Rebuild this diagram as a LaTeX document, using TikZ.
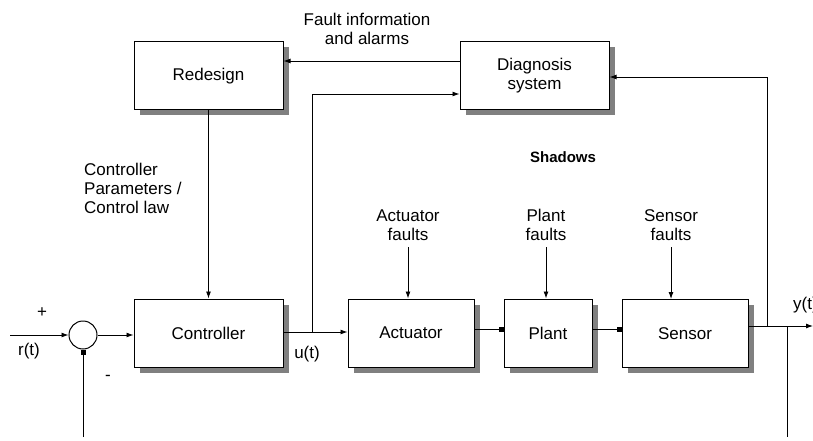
\documentclass[tikz,border=0pt]{standalone}
\usepackage{fontspec}
\setmainfont{Liberation Sans}
\usetikzlibrary{arrows.meta,shadows}
\begin{document}
\begin{tikzpicture}[x=1pt,y=-1pt,
  blk/.style={draw=black,line width=1pt,fill=white,
    drop shadow={shadow xshift=5.5pt,shadow yshift=-5.5pt,fill=black!50,opacity=1},
    inner sep=0pt,font=\fontsize{17}{19}\selectfont,align=center},
  lbl/.style={inner sep=0pt,font=\fontsize{17}{19}\selectfont,align=center},
  conn/.style={line width=0.9pt},
  arr/.style={conn,-{Latex[length=7pt,width=5pt]}},
  sq/.style={conn,-{Square[length=5pt,width=5pt]}}]
\useasboundingbox (0,0) rectangle (813,441);

% blocks
\node[blk,minimum width=149pt,minimum height=68pt] (red) at (208.5,76) {Redesign};
\node[blk,minimum width=149pt,minimum height=68pt] (diag) at (534.5,76) {Diagnosis\\system};
\node[blk,minimum width=149pt,minimum height=68pt] (ctrl) at (208.5,333) {Controller};
\node[blk,minimum width=126pt,minimum height=68pt] (act) at (411,333) {Actuator};
\node[blk,minimum width=88pt,minimum height=68pt] (plant) at (548,333) {Plant};
\node[blk,minimum width=126pt,minimum height=68pt] (sens) at (685,333.5) {Sensor};
\node[draw=black,line width=1pt,fill=white,circle,minimum size=28pt,inner sep=0pt] (sum) at (83,335) {};

% labels
\node[lbl] (fault) at (367,29) {Fault information\\and alarms};
\node[lbl,align=left,anchor=north west] (cpar) at (84,163) {Controller\\Parameters /\\Control law};
\node[lbl,font=\fontsize{15}{18}\selectfont\bfseries] (shad) at (563,157) {Shadows};
\node[lbl] (af) at (408,225) {Actuator\\faults};
\node[lbl] (pf) at (546,225) {Plant\\faults};
\node[lbl] (sf) at (671,225) {Sensor\\faults};
\node[lbl] (plus) at (42,313) {+};
\node[lbl] (minus) at (108,378) {-};
\node[lbl] (rt) at (29,351) {r(t)};
\node[lbl] (ut) at (307,354) {u(t)};
\node[lbl,anchor=west] (yt) at (793,305) {y(t)};

% coordinates
\coordinate (rin) at (10,335);
\coordinate (fbl) at (83,437);
\coordinate (ubr) at (312,332);
\coordinate (ybr) at (767,326);
\coordinate (yfb) at (787,326);
\coordinate (yfbe) at (787,437);
\coordinate (yout) at (813,326);
\coordinate (afs) at (408,247);
\coordinate (pfs) at (546,247);
\coordinate (sfs) at (671,247);

% connectors
\draw[arr] (rin) -- (sum.west);
\draw[sq] (fbl) -- (sum.south);
\draw[arr] (sum.east) -- (sum.east -| ctrl.west);
\draw[arr] (red.south) -- (ctrl.north);
\draw[arr] (ctrl.east |- ubr) -- (ubr -| act.west);
\draw[arr] (ubr) -- (312,94) -- (diag.west |- 0,94);
\draw[arr] (diag.west |- 0,61) -- (red.east |- 0,61);
\draw[sq] (act.east |- 0,329) -- (plant.west |- 0,329);
\draw[sq] (plant.east |- 0,329) -- (sens.west |- 0,329);
\draw[arr] (sens.east |- yout) -- (yout);
\draw[arr] (ybr) -- (767,77) -- (diag.east |- 0,77);
\draw[conn] (yfb) -- (yfbe);
\draw[arr] (afs) -- (afs |- act.north);
\draw[arr] (pfs) -- (pfs |- plant.north);
\draw[arr] (sfs) -- (sfs |- sens.north);
\end{tikzpicture}
\end{document}
